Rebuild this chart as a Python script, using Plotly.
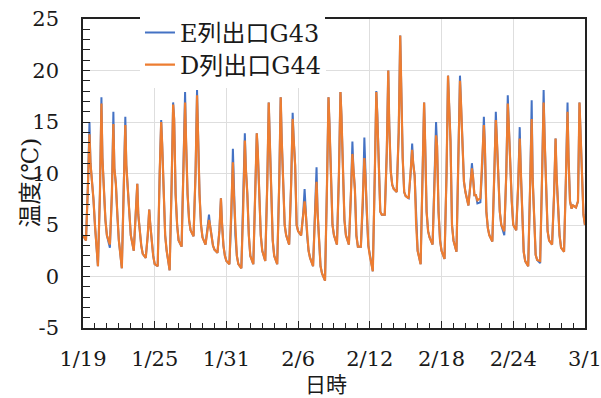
import pandas as pd
import plotly.graph_objects as go

# ---- data ----
START_DATE = "2024-01-19"
N_DAYS = 42
HOURS = [0, 6, 10, 13, 15, 18, 21]          # sample hours within each day
END_TIME = "2024-03-01 00:00"

E_TEMP = [
    4.0, 3.5, 9.0, 15.0, 11.0, 9.5, 7.5,      # 1/19
    5.0, 1.0, 8.0, 17.4, 11.5, 8.0, 5.5,      # 1/20
    4.0, 2.8, 8.0, 16.0, 10.5, 9.0, 6.0,      # 1/21
    3.5, 0.8, 8.0, 15.5, 10.8, 8.2, 5.6,      # 1/22
    4.0, 2.5, 6.0, 9.0, 6.0, 4.0, 3.0,        # 1/23
    2.2, 1.8, 4.0, 6.5, 5.1, 3.5, 2.0,        # 1/24
    1.2, 1.0, 10.0, 15.2, 12.8, 7.0, 4.0,     # 1/25
    2.5, 0.6, 9.0, 16.9, 15.3, 8.0, 5.0,      # 1/26
    3.5, 2.9, 10.0, 17.9, 13.1, 8.0, 5.5,     # 1/27
    4.5, 3.9, 10.0, 18.1, 12.7, 8.0, 5.0,     # 1/28
    3.8, 3.1, 4.5, 6.0, 5.0, 3.7, 3.0,        # 1/29
    2.6, 2.3, 4.5, 7.6, 5.3, 3.0, 2.0,        # 1/30
    1.5, 1.2, 6.0, 12.4, 7.9, 4.0, 2.0,       # 1/31
    1.2, 0.8, 7.0, 13.9, 10.5, 8.0, 4.0,      # 2/1
    2.0, 1.2, 8.0, 13.9, 12.1, 8.0, 4.0,      # 2/2
    2.5, 1.5, 9.0, 16.9, 13.4, 7.0, 3.5,      # 2/3
    2.0, 1.2, 9.0, 17.4, 13.4, 8.0, 5.0,      # 2/4
    4.0, 3.1, 9.0, 15.9, 13.4, 10.8, 5.0,     # 2/5
    4.4, 4.0, 6.0, 8.5, 6.3, 4.0, 2.5,        # 2/6
    1.8, 1.0, 6.0, 10.6, 6.3, 3.0, 1.0,       # 2/7
    0.3, -0.4, 9.0, 17.4, 14.7, 9.0, 5.0,     # 2/8
    4.0, 3.1, 10.0, 17.9, 15.6, 9.0, 5.5,     # 2/9
    4.0, 3.1, 8.0, 13.1, 10.5, 8.5, 4.0,      # 2/10
    2.9, 2.9, 7.0, 13.5, 9.8, 6.0, 3.0,       # 2/11
    2.0, 0.5, 10.0, 18.0, 15.8, 11.5, 6.3,    # 2/12
    6.0, 6.0, 12.0, 20.0, 14.7, 10.2, 8.9,    # 2/13
    8.5, 8.2, 14.0, 23.4, 18.9, 11.5, 8.2,    # 2/14
    7.8, 7.6, 10.0, 12.9, 11.0, 9.8, 5.0,     # 2/15
    2.5, 1.2, 10.0, 16.9, 13.1, 6.3, 4.4,     # 2/16
    3.8, 3.1, 9.0, 15.0, 12.7, 6.3, 3.5,      # 2/17
    2.5, 1.7, 10.0, 19.5, 16.0, 13.1, 5.0,    # 2/18
    3.5, 2.4, 12.0, 19.5, 16.9, 13.1, 9.2,    # 2/19
    8.2, 6.9, 9.0, 11.0, 9.8, 7.9, 7.9,       # 2/20
    7.1, 7.2, 11.0, 15.5, 12.7, 6.3, 4.7,     # 2/21
    4.0, 3.4, 10.0, 16.0, 13.4, 9.0, 6.3,     # 2/22
    5.0, 4.0, 10.0, 17.6, 14.7, 10.8, 7.3,    # 2/23
    5.0, 4.5, 9.0, 14.5, 10.5, 6.6, 2.4,      # 2/24
    1.5, 1.0, 9.0, 17.1, 9.5, 5.0, 2.1,       # 2/25
    1.6, 1.3, 10.0, 18.1, 13.4, 8.2, 4.4,     # 2/26
    3.5, 3.1, 8.0, 13.4, 9.8, 6.8, 4.0,       # 2/27
    2.8, 2.4, 10.0, 16.9, 11.5, 7.3, 6.6,     # 2/28
    6.9, 6.7, 7.3, 16.9, 14.0, 11.0, 6.0,     # 2/29
    5.0,                                      # 3/1 0:00
]

D_TEMP = [
    4.0, 3.5, 9.0, 13.8, 11.0, 9.5, 7.5,      # 1/19
    5.0, 1.0, 8.0, 16.8, 11.5, 8.0, 5.5,      # 1/20
    4.0, 3.1, 8.0, 14.8, 10.5, 9.0, 6.0,      # 1/21
    3.5, 0.8, 8.0, 14.7, 10.8, 8.2, 5.6,      # 1/22
    4.0, 2.5, 6.0, 9.0, 6.0, 4.0, 3.0,        # 1/23
    2.2, 1.8, 4.0, 6.5, 5.1, 3.5, 2.0,        # 1/24
    1.2, 1.0, 10.0, 15.0, 12.8, 7.0, 4.0,     # 1/25
    2.5, 0.6, 9.0, 16.7, 15.3, 8.0, 5.0,      # 1/26
    3.5, 2.9, 10.0, 16.9, 13.1, 8.0, 5.5,     # 1/27
    4.5, 3.9, 10.0, 17.6, 12.7, 8.0, 5.0,     # 1/28
    3.8, 3.1, 4.5, 5.5, 5.0, 3.7, 3.0,        # 1/29
    2.6, 2.3, 4.5, 7.6, 5.3, 3.0, 2.0,        # 1/30
    1.5, 1.2, 6.0, 11.1, 7.9, 4.0, 2.0,       # 1/31
    1.2, 0.8, 7.0, 13.2, 10.5, 8.0, 4.0,      # 2/1
    2.0, 1.2, 8.0, 13.9, 12.1, 8.0, 4.0,      # 2/2
    2.5, 1.5, 9.0, 16.9, 13.4, 7.0, 3.5,      # 2/3
    2.0, 1.2, 9.0, 17.4, 13.4, 8.0, 5.0,      # 2/4
    4.0, 3.1, 9.0, 15.3, 13.4, 10.8, 5.0,     # 2/5
    4.4, 4.0, 6.0, 7.3, 6.3, 4.0, 2.5,        # 2/6
    1.8, 1.0, 6.0, 9.2, 6.3, 3.0, 1.0,        # 2/7
    0.3, -0.4, 9.0, 17.4, 14.7, 9.0, 5.0,     # 2/8
    4.0, 3.1, 10.0, 17.9, 15.6, 9.0, 5.5,     # 2/9
    4.0, 3.1, 8.0, 11.9, 10.5, 8.5, 4.0,      # 2/10
    2.9, 2.9, 7.0, 11.5, 9.8, 6.0, 3.0,       # 2/11
    2.0, 0.5, 10.0, 17.9, 15.5, 11.5, 6.3,    # 2/12
    6.0, 6.0, 12.0, 20.0, 14.7, 10.2, 8.9,    # 2/13
    8.5, 8.2, 14.0, 23.4, 18.9, 11.5, 8.2,    # 2/14
    7.8, 7.6, 10.0, 12.3, 11.0, 9.8, 5.0,     # 2/15
    2.5, 1.2, 10.0, 16.9, 13.1, 6.3, 4.4,     # 2/16
    3.8, 3.1, 9.0, 13.7, 12.7, 6.3, 3.5,      # 2/17
    2.5, 1.7, 10.0, 19.5, 16.0, 13.1, 5.0,    # 2/18
    3.5, 2.4, 12.0, 19.0, 16.9, 13.1, 9.2,    # 2/19
    8.2, 6.9, 9.0, 10.5, 9.8, 7.9, 7.9,       # 2/20
    7.4, 7.6, 11.0, 14.7, 12.7, 6.3, 4.7,     # 2/21
    4.0, 3.4, 10.0, 15.2, 13.4, 9.0, 6.3,     # 2/22
    5.0, 4.4, 10.0, 16.8, 14.7, 10.8, 7.3,    # 2/23
    5.0, 4.5, 9.0, 13.4, 10.5, 6.6, 2.4,      # 2/24
    1.5, 1.0, 9.0, 15.3, 9.5, 5.0, 2.1,       # 2/25
    1.6, 1.5, 10.0, 16.9, 13.4, 8.2, 4.4,     # 2/26
    3.5, 3.1, 8.0, 13.4, 9.8, 6.8, 4.0,       # 2/27
    2.8, 2.4, 10.0, 16.0, 11.5, 7.3, 6.6,     # 2/28
    6.9, 6.7, 7.3, 16.9, 14.0, 11.0, 6.0,     # 2/29
    5.0,                                      # 3/1 0:00
]

SERIES_NAMES = ["E列出口G43", "D列出口G44"]
TICK_DATES = ["2024-01-19", "2024-01-25", "2024-01-31", "2024-02-06",
              "2024-02-12", "2024-02-18", "2024-02-24", "2024-03-01"]
TICK_LABELS = ["1/19", "1/25", "1/31", "2/6", "2/12", "2/18", "2/24", "3/1"]
Y_TICKS = [-5, 0, 5, 10, 15, 20, 25]
Y_TICK_LABELS = ["-5", "0", "5", "10", "15", "20", "25"]
X_TITLE = "日時"
Y_TITLE = "温度(℃)"

# ---- time stamps ----
days = pd.date_range(START_DATE, periods=N_DAYS, freq="D")
times = [d + pd.Timedelta(hours=h) for d in days for h in HOURS] + [pd.Timestamp(END_TIME)]

FONT = "DejaVu Serif, Noto Sans CJK JP, serif"

fig = go.Figure()
fig.add_trace(go.Scatter(x=times, y=E_TEMP, mode="lines", name=SERIES_NAMES[0],
                         line=dict(color="#4472C4", width=2.0), legend="legend"))
fig.add_trace(go.Scatter(x=times, y=D_TEMP, mode="lines", name=SERIES_NAMES[1],
                         line=dict(color="#ED7D31", width=2.2), legend="legend2"))

legend_common = dict(xanchor="left", yanchor="middle", bgcolor="white",
                     font=dict(family=FONT, size=24, color="#1a1a1a"),
                     itemwidth=30, borderwidth=0)

fig.update_layout(
    width=601, height=398,
    margin=dict(l=83, r=16, t=19, b=70, autoexpand=False),
    paper_bgcolor="white", plot_bgcolor="white",
    font=dict(family=FONT, size=20, color="#1a1a1a"),
    showlegend=True,
    legend=dict(x=0.1135, y=0.955, **legend_common),
    legend2=dict(x=0.1135, y=0.851, **legend_common),
    xaxis=dict(
        type="date",
        range=["2024-01-19 00:00", "2024-03-01 00:05"],
        tickvals=TICK_DATES, ticktext=TICK_LABELS,
        ticks="inside", ticklen=7, tickcolor="#222", tickwidth=1,
        showgrid=True, gridcolor="#dedede", gridwidth=1,
        showline=True, linecolor="#222", linewidth=1.5, mirror=True,
        ticklabelstandoff=11, ticklabeloverflow="allow",
        tickfont=dict(family=FONT, size=21),
        minor=dict(ticks="inside", ticklen=5, tickcolor="#222", dtick=86400000,
                   tick0=START_DATE, showgrid=False),
        zeroline=False, automargin=False,
    ),
    yaxis=dict(
        range=[-5, 25],
        tickvals=Y_TICKS, ticktext=Y_TICK_LABELS,
        ticks="inside", ticklen=7, tickcolor="#222", tickwidth=1,
        showgrid=True, gridcolor="#dedede", gridwidth=1,
        showline=True, linecolor="#222", linewidth=1.5, mirror=True,
        ticklabelstandoff=18, ticklabeloverflow="allow",
        tickfont=dict(family=FONT, size=21),
        minor=dict(ticks="inside", ticklen=7, tickcolor="#222", dtick=1, showgrid=False),
        zeroline=False, automargin=False,
    ),
    annotations=[
        dict(text=X_TITLE, xref="paper", yref="paper", x=0.484, y=-0.185,
             xanchor="center", yanchor="middle", showarrow=False,
             font=dict(family=FONT, size=21)),
        dict(text=Y_TITLE, xref="paper", yref="paper", x=-0.106, y=0.47,
             xanchor="center", yanchor="middle", showarrow=False, textangle=-90,
             font=dict(family=FONT, size=23)),
    ],
)

fig.write_html("out.html", config={"displayModeBar": False},
               post_script="document.body.style.margin='0px';")
